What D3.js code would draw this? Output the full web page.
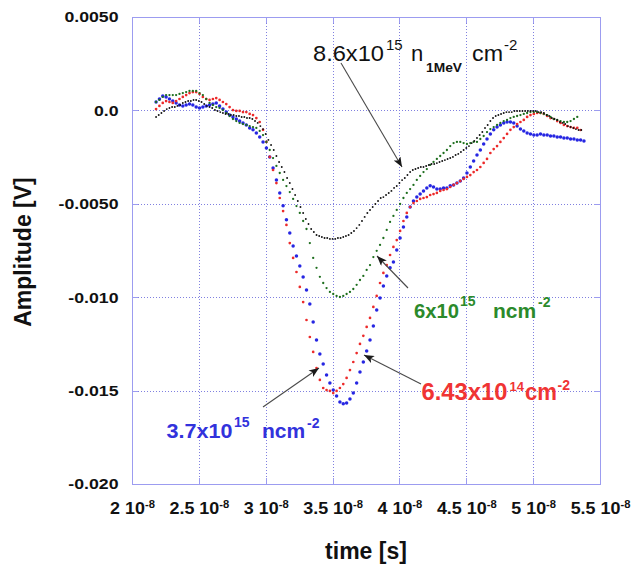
<!DOCTYPE html>
<html><head><meta charset="utf-8">
<script src="https://cdn.jsdelivr.net/npm/d3@7"></script>
<style>html,body{margin:0;padding:0;background:#fff}</style>
</head><body>
<svg id="c" width="631" height="564"></svg>
<script>
// ---------- data ----------
const xTickValues = [2e-8, 2.5e-8, 3e-8, 3.5e-8, 4e-8, 4.5e-8, 5e-8, 5.5e-8];
const xTickMantissas = ["2", "2.5", "3", "3.5", "4", "4.5", "5", "5.5"];
const xTickExponent = "-8";
const yTickValues = [0.005, 0, -0.005, -0.010, -0.015, -0.020];
const yTickLabels = ["0.0050", "0.0", "-0.0050", "-0.010", "-0.015", "-0.020"];

const sampleStart = 2.18e-8;     // s, first recorded sample
const stepCoarse = 0.025e-8;     // s, sampling step (blue, red, green)
const stepFine = 0.02e-8;        // s, sampling step (black)

// 3.7e15 n/cm2 (blue)
const blueAmplitude = [0.00045,0.00061,0.00077,0.00072,0.00061,0.00050,0.00040,0.00029,0.00024,0.00029,
0.00034,0.00029,0.00018,0.00013,0.00018,0.00024,0.00029,0.00034,0.00040,0.00024,
0.00007,-0.00009,-0.00025,-0.00035,-0.00046,-0.00057,-0.00067,-0.00078,-0.00094,-0.00104,
-0.00121,-0.00142,-0.00169,-0.00201,-0.00250,-0.00308,-0.00372,-0.00442,-0.00511,-0.00586,
-0.00656,-0.00726,-0.00779,-0.00833,-0.00892,-0.00961,-0.01036,-0.01133,-0.01229,-0.01304,
-0.01357,-0.01416,-0.01459,-0.01497,-0.01529,-0.01561,-0.01571,-0.01566,-0.01545,-0.01513,
-0.01459,-0.01400,-0.01347,-0.01288,-0.01229,-0.01154,-0.01068,-0.01004,-0.00940,-0.00886,
-0.00843,-0.00811,-0.00747,-0.00683,-0.00624,-0.00571,-0.00517,-0.00485,-0.00464,-0.00448,
-0.00431,-0.00415,-0.00404,-0.00410,-0.00421,-0.00421,-0.00415,-0.00415,-0.00404,-0.00399,
-0.00389,-0.00378,-0.00362,-0.00335,-0.00303,-0.00271,-0.00239,-0.00212,-0.00180,-0.00153,
-0.00126,-0.00104,-0.00089,-0.00078,-0.00067,-0.00062,-0.00062,-0.00067,-0.00084,-0.00100,
-0.00110,-0.00121,-0.00126,-0.00132,-0.00132,-0.00126,-0.00132,-0.00132,-0.00137,-0.00137,
-0.00142,-0.00142,-0.00148,-0.00148,-0.00153,-0.00153,-0.00158,-0.00158,-0.00164];

// 6.43e14 n/cm2 (red)
const redAmplitude = [0.00007,0.00024,0.00040,0.00050,0.00045,0.00040,0.00050,0.00061,0.00072,0.00082,
0.00093,0.00098,0.00098,0.00088,0.00072,0.00061,0.00056,0.00061,0.00066,0.00056,
0.00045,0.00034,0.00018,0.00002,-0.00003,-0.00003,-0.00009,-0.00009,-0.00019,-0.00025,
-0.00041,-0.00062,-0.00104,-0.00169,-0.00249,-0.00319,-0.00389,-0.00469,-0.00539,-0.00613,
-0.00710,-0.00790,-0.00865,-0.00945,-0.01026,-0.01122,-0.01213,-0.01293,-0.01379,-0.01443,
-0.01486,-0.01497,-0.01502,-0.01513,-0.01502,-0.01486,-0.01465,-0.01432,-0.01390,-0.01347,
-0.01299,-0.01250,-0.01207,-0.01159,-0.01111,-0.01052,-0.00993,-0.00924,-0.00870,-0.00828,
-0.00774,-0.00731,-0.00694,-0.00645,-0.00592,-0.00549,-0.00517,-0.00496,-0.00485,-0.00474,
-0.00469,-0.00464,-0.00453,-0.00448,-0.00442,-0.00431,-0.00426,-0.00421,-0.00410,-0.00399,
-0.00389,-0.00378,-0.00367,-0.00356,-0.00346,-0.00330,-0.00319,-0.00303,-0.00281,-0.00260,
-0.00228,-0.00207,-0.00191,-0.00169,-0.00148,-0.00126,-0.00104,-0.00089,-0.00073,-0.00062,
-0.00051,-0.00035,-0.00025,-0.00019,-0.00014,-0.00014,-0.00019,-0.00030,-0.00041,-0.00046,
-0.00057,-0.00067,-0.00078,-0.00084,-0.00089,-0.00094,-0.00094,-0.00105];

// 6e15 n/cm2 (green)
const greenAmplitude = [0.00045,0.00056,0.00072,0.00082,0.00082,0.00082,0.00082,0.00088,0.00093,0.00098,
0.00104,0.00104,0.00104,0.00093,0.00082,0.00061,0.00040,0.00029,0.00018,0.00013,
0.00002,-0.00014,-0.00030,-0.00046,-0.00057,-0.00067,-0.00073,-0.00078,-0.00084,-0.00089,
-0.00094,-0.00110,-0.00132,-0.00169,-0.00212,-0.00255,-0.00297,-0.00335,-0.00372,-0.00405,
-0.00437,-0.00474,-0.00512,-0.00549,-0.00592,-0.00635,-0.00710,-0.00790,-0.00843,-0.00891,
-0.00924,-0.00951,-0.00972,-0.00983,-0.00993,-0.00999,-0.00993,-0.00983,-0.00972,-0.00956,
-0.00934,-0.00908,-0.00886,-0.00854,-0.00828,-0.00785,-0.00752,-0.00720,-0.00683,-0.00640,
-0.00597,-0.00565,-0.00533,-0.00501,-0.00469,-0.00442,-0.00421,-0.00399,-0.00372,-0.00351,
-0.00330,-0.00314,-0.00292,-0.00276,-0.00260,-0.00244,-0.00228,-0.00212,-0.00191,-0.00175,
-0.00169,-0.00169,-0.00175,-0.00180,-0.00175,-0.00169,-0.00169,-0.00153,-0.00137,-0.00116,
-0.00100,-0.00089,-0.00078,-0.00067,-0.00057,-0.00051,-0.00041,-0.00035,-0.00030,-0.00025,
-0.00019,-0.00014,-0.00009,-0.00009,-0.00009,-0.00014,-0.00019,-0.00025,-0.00035,-0.00046,
-0.00051,-0.00057,-0.00062,-0.00062,-0.00057,-0.00046,-0.00035];

// 8.6e15 n_1MeV/cm2 (black)
const blackAmplitude = [-0.00035,-0.00025,-0.00014,-0.00003,0.00007,0.00013,0.00018,0.00018,0.00024,0.00029,
0.00040,0.00045,0.00050,0.00050,0.00056,0.00056,0.00050,0.00045,0.00034,0.00024,
0.00018,0.00013,0.00002,-0.00003,-0.00009,-0.00014,-0.00019,-0.00019,-0.00025,-0.00025,
-0.00030,-0.00030,-0.00035,-0.00035,-0.00041,-0.00041,-0.00046,-0.00057,-0.00067,-0.00084,
-0.00100,-0.00126,-0.00158,-0.00185,-0.00212,-0.00244,-0.00276,-0.00303,-0.00330,-0.00362,
-0.00389,-0.00421,-0.00453,-0.00485,-0.00517,-0.00549,-0.00581,-0.00608,-0.00635,-0.00651,
-0.00667,-0.00672,-0.00678,-0.00683,-0.00683,-0.00688,-0.00688,-0.00688,-0.00683,-0.00683,
-0.00678,-0.00672,-0.00667,-0.00656,-0.00646,-0.00630,-0.00613,-0.00592,-0.00570,-0.00549,
-0.00533,-0.00517,-0.00501,-0.00485,-0.00469,-0.00464,-0.00453,-0.00442,-0.00431,-0.00415,
-0.00405,-0.00389,-0.00373,-0.00362,-0.00346,-0.00330,-0.00319,-0.00314,-0.00308,-0.00303,
-0.00303,-0.00298,-0.00292,-0.00287,-0.00287,-0.00282,-0.00276,-0.00271,-0.00266,-0.00260,
-0.00255,-0.00249,-0.00239,-0.00233,-0.00223,-0.00212,-0.00201,-0.00191,-0.00175,-0.00164,
-0.00148,-0.00132,-0.00116,-0.00094,-0.00078,-0.00057,-0.00041,-0.00030,-0.00025,-0.00019,
-0.00014,-0.00009,-0.00009,-0.00009,-0.00003,-0.00003,-0.00003,-0.00003,-0.00003,-0.00003,
-0.00003,-0.00003,-0.00003,-0.00009,-0.00009,-0.00014,-0.00025,-0.00030,-0.00041,-0.00046,
-0.00051,-0.00062,-0.00067,-0.00073,-0.00084,-0.00089,-0.00094,-0.00100,-0.00105,-0.00105];

const axisTitleX = "time [s]";
const axisTitleY = "Amplitude [V]";

// ---------- layout / style ----------
const FONT = "'Liberation Sans', Arial, Helvetica, sans-serif";
const W = 631, H = 564;
const plot = {left: 132, top: 17, right: 600, bottom: 484};
const frameColor = "#9c9cf0";
const gridColor = "#8080e0";

const x = d3.scaleLinear().domain([2e-8, 5.5e-8]).range([plot.left, plot.right]);
const y = d3.scaleLinear().domain([0.005, -0.020]).range([plot.top, plot.bottom]);

const svg = d3.select("#c");
svg.append("rect").attr("width", W).attr("height", H).attr("fill", "#fff");

// grid
const crisp = v => Math.round(v) + 0.5;
const grid = svg.append("g").attr("stroke", gridColor).attr("stroke-width", 1).attr("stroke-dasharray", "1,2");
grid.selectAll("line.gx").data(xTickValues.slice(1, -1)).join("line").attr("class", "gx")
  .attr("x1", d => crisp(x(d))).attr("x2", d => crisp(x(d))).attr("y1", plot.top).attr("y2", plot.bottom);
grid.selectAll("line.gy").data(yTickValues.slice(1, -1)).join("line").attr("class", "gy")
  .attr("y1", d => crisp(y(d))).attr("y2", d => crisp(y(d))).attr("x1", plot.left).attr("x2", plot.right);

// frame + inward ticks
const fr = svg.append("g").attr("stroke", frameColor).attr("stroke-width", 1).attr("fill", "none");
fr.append("rect").attr("x", crisp(plot.left)).attr("y", crisp(plot.top))
  .attr("width", Math.round(plot.right - plot.left)).attr("height", Math.round(plot.bottom - plot.top));
const tl = 6;
fr.selectAll("line.tb").data(xTickValues).join("line").attr("class", "tb")
  .attr("x1", d => crisp(x(d))).attr("x2", d => crisp(x(d))).attr("y1", plot.bottom).attr("y2", plot.bottom - tl);
fr.selectAll("line.tt").data(xTickValues).join("line").attr("class", "tt")
  .attr("x1", d => crisp(x(d))).attr("x2", d => crisp(x(d))).attr("y1", plot.top).attr("y2", plot.top + tl);
fr.selectAll("line.tlf").data(yTickValues).join("line").attr("class", "tlf")
  .attr("y1", d => crisp(y(d))).attr("y2", d => crisp(y(d))).attr("x1", plot.left).attr("x2", plot.left + tl);
fr.selectAll("line.tr").data(yTickValues).join("line").attr("class", "tr")
  .attr("y1", d => crisp(y(d))).attr("y2", d => crisp(y(d))).attr("x1", plot.right).attr("x2", plot.right - tl);

// tick labels
function stretchedText(px, py, sx, size, anchor) {
  return svg.append("g").attr("transform", `translate(${px},${py}) scale(${sx},1)`)
    .append("text").attr("font-family", FONT).attr("font-size", size).attr("font-weight", "bold")
    .attr("fill", "#111").attr("text-anchor", anchor);
}
yTickValues.forEach((v, i) => {
  stretchedText(118.5, y(v) + 5.3, 1.18, 15, "end").text(yTickLabels[i]);
});
xTickValues.forEach((v, i) => {
  const t = stretchedText(x(v) + 0.5, 513.5, 1.12, 16, "middle");
  t.append("tspan").text(xTickMantissas[i] + " 10");
  t.append("tspan").attr("dy", -5.5).attr("font-size", 10).text(xTickExponent);
});

// axis titles
svg.append("text").attr("font-family", FONT).attr("font-size", 23).attr("font-weight", "bold")
  .attr("fill", "#111").attr("text-anchor", "middle").attr("x", 366).attr("y", 559).text(axisTitleX);
svg.append("text").attr("font-family", FONT).attr("font-size", 23).attr("font-weight", "bold")
  .attr("fill", "#111").attr("text-anchor", "middle")
  .attr("transform", "translate(31,252) rotate(-90)").text(axisTitleY);

// series dots
const series = [
  {values: blueAmplitude, step: stepCoarse, color: "#2626e2", r: 1.75},
  {values: redAmplitude, step: stepCoarse, color: "#ec2a2a", r: 1.35},
  {values: greenAmplitude, step: stepCoarse, color: "#1d6e1d", r: 1.15},
  {values: blackAmplitude, step: stepFine, color: "#111111", r: 0.95}
];
series.forEach(s => {
  svg.append("g").attr("fill", s.color).selectAll("circle").data(s.values).join("circle")
    .attr("cx", (d, i) => x(sampleStart + i * s.step))
    .attr("cy", d => y(d))
    .attr("r", s.r);
});

// arrows
const defs = svg.append("defs");
defs.append("marker").attr("id", "ah").attr("viewBox", "0 0 10 8").attr("refX", 10).attr("refY", 4)
  .attr("markerWidth", 11).attr("markerHeight", 8).attr("markerUnits", "userSpaceOnUse").attr("orient", "auto")
  .append("path").attr("d", "M0,0 L10,4 L0,8 L2.5,4 Z").attr("fill", "#1a1a1a");
const arrows = [
  [341, 63, 402, 167],
  [408, 288, 377, 256],
  [421, 384, 364, 355],
  [263, 407, 319, 368]
];
svg.append("g").selectAll("line").data(arrows).join("line")
  .attr("x1", d => d[0]).attr("y1", d => d[1]).attr("x2", d => d[2]).attr("y2", d => d[3])
  .attr("stroke", "#4a4a4a").attr("stroke-width", 1.1).attr("marker-end", "url(#ah)");

// annotations
const annotations = [
  // black
  {t: "8.6x10", x: 313, y: 60.5, size: 22, w: "normal", fill: "#111", len: 71},
  {t: "15", x: 386, y: 49.5, size: 15, w: "normal", fill: "#111"},
  {t: "n", x: 411, y: 60.5, size: 22, w: "normal", fill: "#111"},
  {t: "1MeV", x: 426, y: 71.5, size: 13, w: "bold", fill: "#111", len: 36},
  {t: "cm", x: 472, y: 60.5, size: 22, w: "normal", fill: "#111", len: 31},
  {t: "-2", x: 504, y: 49.5, size: 15, w: "normal", fill: "#111"},
  // green
  {t: "6x10", x: 414, y: 317.5, size: 21, w: "bold", fill: "#2b8a2b", len: 45},
  {t: "15", x: 460, y: 305.5, size: 14, w: "bold", fill: "#2b8a2b"},
  {t: "ncm", x: 493, y: 317.5, size: 21, w: "bold", fill: "#2b8a2b"},
  {t: "-2", x: 538, y: 306.5, size: 14, w: "bold", fill: "#2b8a2b"},
  // red
  {t: "6.43x10", x: 421.5, y: 400, size: 23, w: "bold", fill: "#f03434", len: 86},
  {t: "14", x: 509.5, y: 391, size: 13, w: "bold", fill: "#f03434"},
  {t: "cm", x: 525, y: 400, size: 23, w: "bold", fill: "#f03434", len: 32},
  {t: "-2", x: 557.5, y: 389.5, size: 14, w: "bold", fill: "#f03434"},
  // blue
  {t: "3.7x10", x: 166.5, y: 437.5, size: 21, w: "bold", fill: "#3232dc", len: 66},
  {t: "15", x: 234, y: 427, size: 14, w: "bold", fill: "#3232dc"},
  {t: "ncm", x: 262, y: 437.5, size: 21, w: "bold", fill: "#3232dc"},
  {t: "-2", x: 307, y: 428, size: 14, w: "bold", fill: "#3232dc"}
];
annotations.forEach(a => {
  const el = svg.append("text").attr("font-family", FONT).attr("font-size", a.size).attr("font-weight", a.w)
    .attr("fill", a.fill).attr("x", a.x).attr("y", a.y).text(a.t);
  if (a.len) el.attr("textLength", a.len).attr("lengthAdjust", "spacingAndGlyphs");
});
</script>
</body></html>
